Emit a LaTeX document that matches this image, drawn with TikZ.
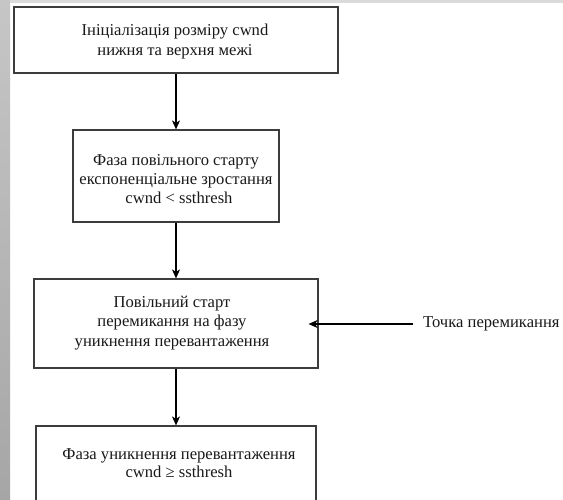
\documentclass[tikz,border=0pt]{standalone}
\usepackage{fontspec}
\setmainfont{Liberation Serif}
\usetikzlibrary{arrows.meta}
\definecolor{edge}{HTML}{3C3C3C}
\definecolor{stripA}{HTML}{C6C6C6}
\definecolor{stripB}{HTML}{A6A6A6}
\definecolor{topstrip}{HTML}{DADADA}
\begin{document}
\begin{tikzpicture}[x=1pt,y=-1pt,
  box/.style={draw=edge, line width=1.2pt, inner sep=0pt, rectangle},
  txt/.style={align=center, inner sep=0pt, text=black!90, font=\fontsize{16.6}{#1}\selectfont},
  arr/.style={draw=black, line width=1.2pt, -{Stealth[length=9pt,width=8pt,inset=2.5pt]}}
]
\useasboundingbox (0,0) rectangle (563,499);
\clip (0,0) rectangle (563,499);
% background strips
\fill[white] (0,0) rectangle (563,499);
\shade[top color=stripA, bottom color=stripB] (0,0) rectangle (10,499);
\fill[topstrip] (10,0) rectangle (563,3);

% boxes
\node[box, line width=2pt, minimum width=324pt, minimum height=66pt] (b1) at (176,40) {};
\node[box, minimum width=206pt, minimum height=92pt] (b2) at (176,176) {};
\node[box, minimum width=284pt, minimum height=89pt] (b3) at (176,323.5) {};
\node[box, minimum width=280pt, minimum height=114pt] (b4) at (176,483) {};

% texts
\node[txt=20pt] (t1) at (175,42) {Ініціалізація розміру cwnd\\нижня та верхня межі};
\node[txt=19pt] (t2) at (176,179) {Фаза повільного старту\\експоненціальне зростання\\\hspace*{6pt}cwnd < ssthresh};
\node[txt=19.5pt] (t3) at (172,323) {Повільний старт\\перемикання на фазу\\уникнення перевантаження};
\node[txt=18pt] (t4) at (179,463) {Фаза уникнення перевантаження\\cwnd ≥ ssthresh};
\node[txt=20pt, anchor=west] (lbl) at (423,324) {Точка перемикання};

% connectors
\draw[arr] (b1.south) -- (b2.north);
\draw[arr] (b2.south) -- (b3.north);
\draw[arr] (b3.south) -- (b4.north);
\draw[arr] ([xshift=-10pt]lbl.west) -- ([xshift=-10pt]lbl.west -| b3.east);
\end{tikzpicture}
\end{document}
